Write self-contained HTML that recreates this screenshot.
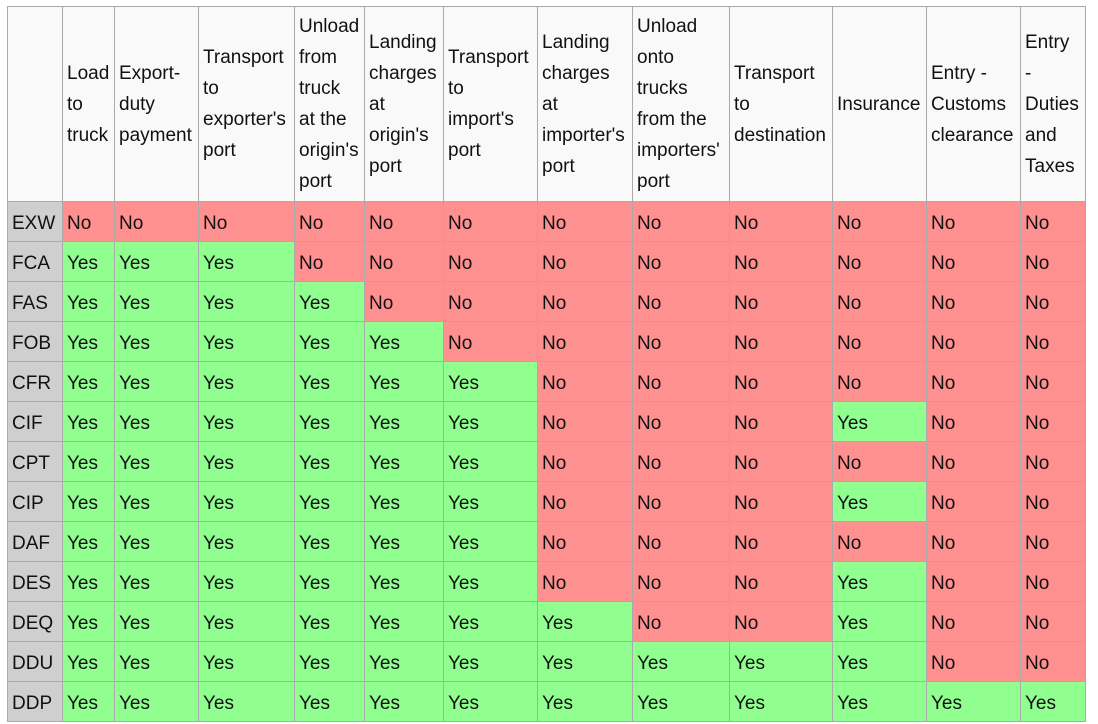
<!DOCTYPE html>
<html><head><style>
html,body{margin:0;padding:0;background:#fff;}
table{position:absolute;left:7px;top:6px;border-collapse:collapse;table-layout:fixed;width:1079px;font-family:"Liberation Sans",Arial,sans-serif;font-size:19px;color:#111;}
td,th{border:1px solid #aaa;padding:0 0 0 4px;text-align:left;font-weight:normal;overflow:hidden;vertical-align:middle;white-space:nowrap;}
thead th{background:#f9f9f9;height:194px;line-height:31px;}
tbody td,tbody th{height:39px;line-height:39px;}
tbody th{background:#cfcfcf;}
tbody span{position:relative;top:2px;}
.n{background:#ff9090;}
.y{background:#90ff90;}
</style></head><body>
<table>
<colgroup><col style="width:55px"><col style="width:52px"><col style="width:84px"><col style="width:96px"><col style="width:70px"><col style="width:79px"><col style="width:94px"><col style="width:95px"><col style="width:97px"><col style="width:103px"><col style="width:94px"><col style="width:94px"><col style="width:65px"></colgroup>
<thead><tr><th></th><th>Load<br>to<br>truck</th><th>Export-<br>duty<br>payment</th><th>Transport<br>to<br>exporter's<br>port</th><th>Unload<br>from<br>truck<br>at the<br>origin's<br>port</th><th>Landing<br>charges<br>at<br>origin's<br>port</th><th>Transport<br>to<br>import's<br>port</th><th>Landing<br>charges<br>at<br>importer's<br>port</th><th>Unload<br>onto<br>trucks<br>from the<br>importers'<br>port</th><th>Transport<br>to<br>destination</th><th>Insurance</th><th>Entry -<br>Customs<br>clearance</th><th>Entry<br>-<br>Duties<br>and<br>Taxes</th></tr></thead>
<tbody>
<tr><th><span>EXW</span></th><td class="n"><span>No</span></td><td class="n"><span>No</span></td><td class="n"><span>No</span></td><td class="n"><span>No</span></td><td class="n"><span>No</span></td><td class="n"><span>No</span></td><td class="n"><span>No</span></td><td class="n"><span>No</span></td><td class="n"><span>No</span></td><td class="n"><span>No</span></td><td class="n"><span>No</span></td><td class="n"><span>No</span></td></tr>
<tr><th><span>FCA</span></th><td class="y"><span>Yes</span></td><td class="y"><span>Yes</span></td><td class="y"><span>Yes</span></td><td class="n"><span>No</span></td><td class="n"><span>No</span></td><td class="n"><span>No</span></td><td class="n"><span>No</span></td><td class="n"><span>No</span></td><td class="n"><span>No</span></td><td class="n"><span>No</span></td><td class="n"><span>No</span></td><td class="n"><span>No</span></td></tr>
<tr><th><span>FAS</span></th><td class="y"><span>Yes</span></td><td class="y"><span>Yes</span></td><td class="y"><span>Yes</span></td><td class="y"><span>Yes</span></td><td class="n"><span>No</span></td><td class="n"><span>No</span></td><td class="n"><span>No</span></td><td class="n"><span>No</span></td><td class="n"><span>No</span></td><td class="n"><span>No</span></td><td class="n"><span>No</span></td><td class="n"><span>No</span></td></tr>
<tr><th><span>FOB</span></th><td class="y"><span>Yes</span></td><td class="y"><span>Yes</span></td><td class="y"><span>Yes</span></td><td class="y"><span>Yes</span></td><td class="y"><span>Yes</span></td><td class="n"><span>No</span></td><td class="n"><span>No</span></td><td class="n"><span>No</span></td><td class="n"><span>No</span></td><td class="n"><span>No</span></td><td class="n"><span>No</span></td><td class="n"><span>No</span></td></tr>
<tr><th><span>CFR</span></th><td class="y"><span>Yes</span></td><td class="y"><span>Yes</span></td><td class="y"><span>Yes</span></td><td class="y"><span>Yes</span></td><td class="y"><span>Yes</span></td><td class="y"><span>Yes</span></td><td class="n"><span>No</span></td><td class="n"><span>No</span></td><td class="n"><span>No</span></td><td class="n"><span>No</span></td><td class="n"><span>No</span></td><td class="n"><span>No</span></td></tr>
<tr><th><span>CIF</span></th><td class="y"><span>Yes</span></td><td class="y"><span>Yes</span></td><td class="y"><span>Yes</span></td><td class="y"><span>Yes</span></td><td class="y"><span>Yes</span></td><td class="y"><span>Yes</span></td><td class="n"><span>No</span></td><td class="n"><span>No</span></td><td class="n"><span>No</span></td><td class="y"><span>Yes</span></td><td class="n"><span>No</span></td><td class="n"><span>No</span></td></tr>
<tr><th><span>CPT</span></th><td class="y"><span>Yes</span></td><td class="y"><span>Yes</span></td><td class="y"><span>Yes</span></td><td class="y"><span>Yes</span></td><td class="y"><span>Yes</span></td><td class="y"><span>Yes</span></td><td class="n"><span>No</span></td><td class="n"><span>No</span></td><td class="n"><span>No</span></td><td class="n"><span>No</span></td><td class="n"><span>No</span></td><td class="n"><span>No</span></td></tr>
<tr><th><span>CIP</span></th><td class="y"><span>Yes</span></td><td class="y"><span>Yes</span></td><td class="y"><span>Yes</span></td><td class="y"><span>Yes</span></td><td class="y"><span>Yes</span></td><td class="y"><span>Yes</span></td><td class="n"><span>No</span></td><td class="n"><span>No</span></td><td class="n"><span>No</span></td><td class="y"><span>Yes</span></td><td class="n"><span>No</span></td><td class="n"><span>No</span></td></tr>
<tr><th><span>DAF</span></th><td class="y"><span>Yes</span></td><td class="y"><span>Yes</span></td><td class="y"><span>Yes</span></td><td class="y"><span>Yes</span></td><td class="y"><span>Yes</span></td><td class="y"><span>Yes</span></td><td class="n"><span>No</span></td><td class="n"><span>No</span></td><td class="n"><span>No</span></td><td class="n"><span>No</span></td><td class="n"><span>No</span></td><td class="n"><span>No</span></td></tr>
<tr><th><span>DES</span></th><td class="y"><span>Yes</span></td><td class="y"><span>Yes</span></td><td class="y"><span>Yes</span></td><td class="y"><span>Yes</span></td><td class="y"><span>Yes</span></td><td class="y"><span>Yes</span></td><td class="n"><span>No</span></td><td class="n"><span>No</span></td><td class="n"><span>No</span></td><td class="y"><span>Yes</span></td><td class="n"><span>No</span></td><td class="n"><span>No</span></td></tr>
<tr><th><span>DEQ</span></th><td class="y"><span>Yes</span></td><td class="y"><span>Yes</span></td><td class="y"><span>Yes</span></td><td class="y"><span>Yes</span></td><td class="y"><span>Yes</span></td><td class="y"><span>Yes</span></td><td class="y"><span>Yes</span></td><td class="n"><span>No</span></td><td class="n"><span>No</span></td><td class="y"><span>Yes</span></td><td class="n"><span>No</span></td><td class="n"><span>No</span></td></tr>
<tr><th><span>DDU</span></th><td class="y"><span>Yes</span></td><td class="y"><span>Yes</span></td><td class="y"><span>Yes</span></td><td class="y"><span>Yes</span></td><td class="y"><span>Yes</span></td><td class="y"><span>Yes</span></td><td class="y"><span>Yes</span></td><td class="y"><span>Yes</span></td><td class="y"><span>Yes</span></td><td class="y"><span>Yes</span></td><td class="n"><span>No</span></td><td class="n"><span>No</span></td></tr>
<tr><th><span>DDP</span></th><td class="y"><span>Yes</span></td><td class="y"><span>Yes</span></td><td class="y"><span>Yes</span></td><td class="y"><span>Yes</span></td><td class="y"><span>Yes</span></td><td class="y"><span>Yes</span></td><td class="y"><span>Yes</span></td><td class="y"><span>Yes</span></td><td class="y"><span>Yes</span></td><td class="y"><span>Yes</span></td><td class="y"><span>Yes</span></td><td class="y"><span>Yes</span></td></tr>
</tbody></table>
</body></html>
